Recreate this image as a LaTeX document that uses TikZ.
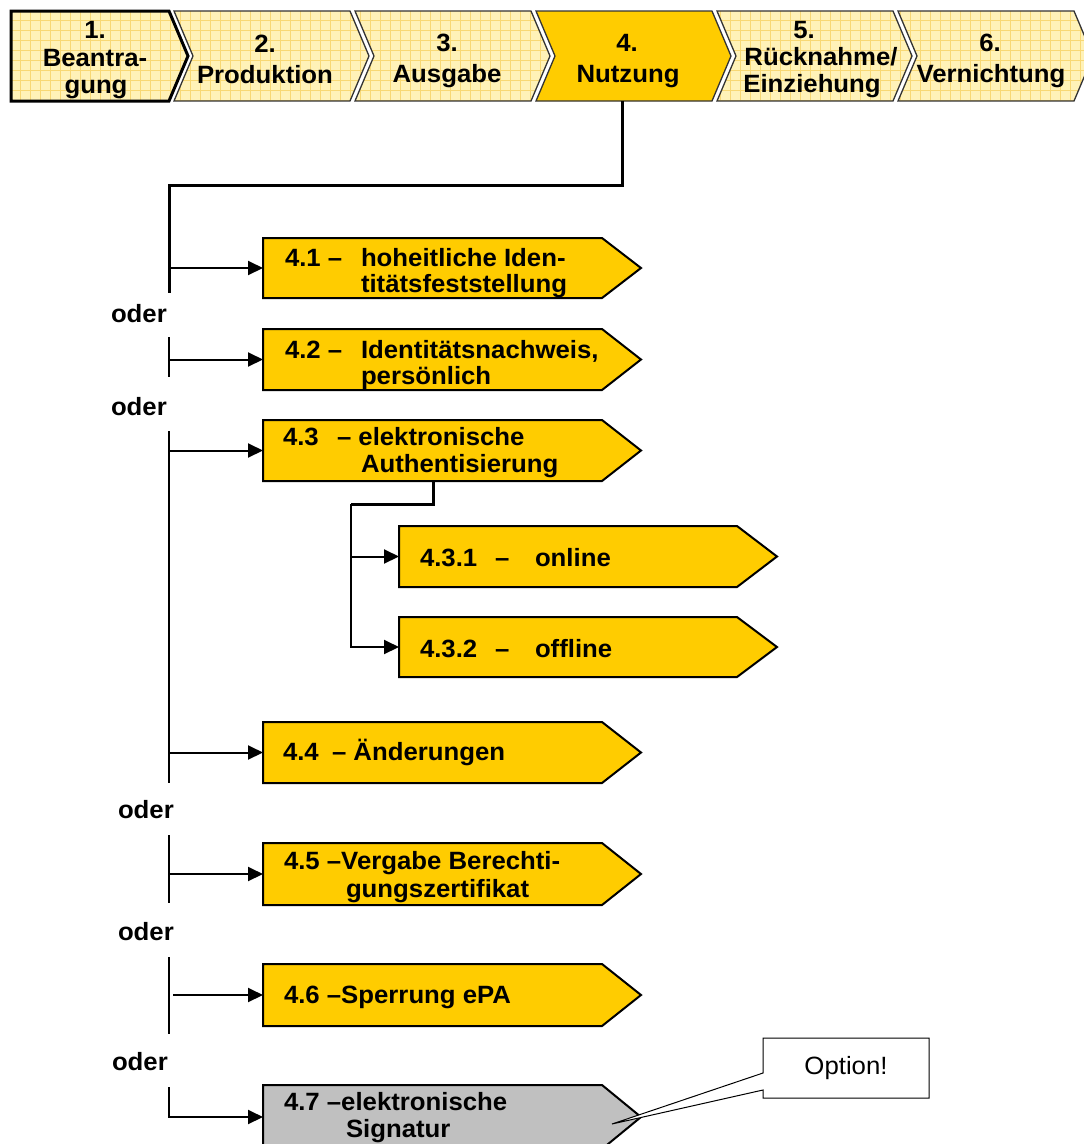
\documentclass[tikz,border=0pt]{standalone}
\usepackage{fontspec}
\setmainfont{Liberation Sans}[FakeStretch=1.03]
\usetikzlibrary{arrows.meta,calc}

\definecolor{gold}{HTML}{FFCC00}
\definecolor{pale}{HTML}{FFF2B8}
\definecolor{gridc}{HTML}{F8D874}
\definecolor{optgray}{HTML}{C0C0C0}
\definecolor{edge}{HTML}{333333}

\tikzset{
  txt/.style={inner sep=0pt, outer sep=0pt, font=\fontsize{25}{29}\selectfont\bfseries},
  plaintxt/.style={inner sep=0pt, outer sep=0pt, font=\fontsize{25}{29}\selectfont},
  chevline/.style={draw=edge, line width=1.3pt, line join=miter},
  firstline/.style={draw=black, line width=3pt, line join=miter},
  gridline/.style={draw=gridc, line width=0.6pt, xstep=10pt, ystep=10pt},
  boxline/.style={draw=black, line width=2pt, line join=miter},
  trunk/.style={draw=black, line width=3pt},
  rail/.style={draw=black, line width=2.2pt},
  arr/.style={draw=black, line width=2pt, -{Triangle[length=15pt,width=14pt]}},
  anchorbox/.style={inner sep=0pt, outer sep=0pt, draw=none, anchor=north west},
}

% one phase chevron of the process bar, left edge notched
\newcommand\chevpath[1]{(#1,11) -- ++(176,0) -- ++(19,45) -- ++(-19,45) -- ++(-176,0) -- ++(19,-45) -- cycle}
% pale gridded chevron
\newcommand\gridchev[1]{%
  \begin{scope}
    \clip \chevpath{#1};
    \fill[pale] (#1,11) rectangle ({#1+196},101);
    \draw[gridline] ({#1-4},104) grid ({#1+200},8);
  \end{scope}
  \draw[chevline] \chevpath{#1};
}
% pointed step box: name, left, top, bottom, corner, tip, fill
\newcommand\pbox[7]{%
  \draw[boxline, fill=#7] (#2,#3) -- (#5,#3) -- (#6,{(#3+#4)/2}) -- (#5,#4) -- (#2,#4) -- cycle;
  \node[anchorbox, minimum width={(#5-#2)*1pt}, minimum height={(#4-#3)*1pt}] (#1) at (#2,#3) {};
}

\begin{document}
\begin{tikzpicture}[x=1pt, y=-1pt]
\useasboundingbox (0,0) rectangle (1084,1144);
\fill[white] (0,0) rectangle (1084,1144);

% ---------- process bar ----------
\begin{scope}
  \clip (11,11) -- (169,11) -- (188,56) -- (169,101) -- (11,101) -- cycle;
  \fill[pale] (11,11) rectangle (190,101);
  \draw[gridline] (8,104) grid (192,8);
\end{scope}
\draw[firstline] (11,11) -- (169,11) -- (188,56) -- (169,101) -- (11,101) -- cycle;
\gridchev{174}
\gridchev{355}
\draw[chevline, fill=gold] \chevpath{536};
\node[anchorbox, minimum width=176pt, minimum height=90pt] (ch4) at (536,11) {};
\gridchev{717}
\gridchev{898}

\node[txt, anchor=base] (p1a) at (95,38) {1.};
\node[txt, anchor=base] (p1b) at (95,66) {Beantra-};
\node[txt, anchor=base] (p1c) at (96,93) {gung};
\node[txt, anchor=base] (p2a) at (265,52) {2.};
\node[txt, anchor=base] (p2b) at (265,83) {Produktion};
\node[txt, anchor=base] (p3a) at (447,51) {3.};
\node[txt, anchor=base] (p3b) at (447,82) {Ausgabe};
\node[txt, anchor=base] (p4a) at (627,51) {4.};
\node[txt, anchor=base] (p4b) at (628,82) {Nutzung};
\node[txt, anchor=base] (p5a) at (804,38) {5.};
\node[txt, anchor=base] (p5b) at (821,65) {Rücknahme/};
\node[txt, anchor=base] (p5c) at (812,92) {Einziehung};
\node[txt, anchor=base] (p6a) at (990,51) {6.};
\node[txt, anchor=base] (p6b) at (991,82) {Vernichtung};

% ---------- sub-steps of phase 4 ----------
\pbox{b41}{263}{238}{298}{602}{641}{gold}
\pbox{b42}{263}{329}{390}{602}{641}{gold}
\pbox{b43}{263}{420}{481}{602}{641}{gold}
\pbox{b431}{399}{526}{587}{737}{777}{gold}
\pbox{b432}{399}{617}{677}{737}{777}{gold}
\pbox{b44}{263}{722}{783}{602}{641}{gold}
\pbox{b45}{263}{843}{905}{602}{641}{gold}
\pbox{b46}{263}{964}{1026}{602}{641}{gold}
\pbox{b47}{263}{1085}{1149}{602}{641}{optgray}

% ---------- connectors ----------
\coordinate (j0) at (169,185);
\coordinate (j1) at (169,293);
\draw[trunk] ($(ch4.south west)+(86,0)$) |- (j0) -- (j1);
\draw[arr] (j1 |- b41.west) -- (b41.west);

\coordinate (s2a) at (169,337);
\coordinate (s2b) at (169,377);
\draw[rail] (s2a) -- (s2b);
\draw[arr] (s2a |- b42.west) -- (b42.west);

\coordinate (s3a) at (169,431);
\coordinate (s3b) at (169,783);
\draw[rail] (s3a) -- (s3b);
\draw[arr] (s3a |- b43.west) -- (b43.west);
\draw[arr] (s3a |- b44.west) -- (b44.west);

\coordinate (k0) at ($(b43.south west)+(170,0)$);
\coordinate (k1) at (351,504);
\draw[trunk] (k0) |- (k1);
\draw[arr] (k1 |- b431.west) -- (b431.west);
\draw[arr] (k1) |- (b432.west);

\coordinate (s4a) at (169,835);
\coordinate (s4b) at (169,903);
\draw[rail] (s4a) -- (s4b);
\draw[arr] (s4a |- b45.west) -- (b45.west);

\coordinate (s5a) at (169,957);
\coordinate (s5b) at (169,1034);
\draw[rail] (s5a) -- (s5b);
\draw[arr] ([xshift=4pt]s5a |- b46.west) -- (b46.west);

\coordinate (s6a) at (169,1087);
\draw[arr] (s6a) |- (b47.west);

% ---------- alternatives ----------
\node[txt, anchor=base west] (or1) at (111,322) {oder};
\node[txt, anchor=base west] (or2) at (111,415) {oder};
\node[txt, anchor=base west] (or3) at (118,818) {oder};
\node[txt, anchor=base west] (or4) at (118,940) {oder};
\node[txt, anchor=base west] (or5) at (112,1070) {oder};

% ---------- box labels ----------
\node[txt, anchor=base west] (l41a) at (285,266) {4.1 –};
\node[txt, anchor=base west] (l41b) at (361,266) {hoheitliche Iden-};
\node[txt, anchor=base west] (l41c) at (361,292) {titätsfeststellung};

\node[txt, anchor=base west] (l42a) at (285,358) {4.2 –};
\node[txt, anchor=base west] (l42b) at (361,358) {Identitätsnachweis,};
\node[txt, anchor=base west] (l42c) at (361,384) {persönlich};

\node[txt, anchor=base west] (l43a) at (283,445) {4.3};
\node[txt, anchor=base west] (l43b) at (337,445) {– elektronische};
\node[txt, anchor=base west] (l43c) at (361,472) {Authentisierung};

\node[txt, anchor=base west] (l431a) at (420,566) {4.3.1};
\node[txt, anchor=base west] (l431b) at (495,566) {–};
\node[txt, anchor=base west] (l431c) at (535,566) {online};

\node[txt, anchor=base west] (l432a) at (420,657) {4.3.2};
\node[txt, anchor=base west] (l432b) at (495,657) {–};
\node[txt, anchor=base west] (l432c) at (535,657) {offline};

\node[txt, anchor=base west] (l44a) at (283,760) {4.4};
\node[txt, anchor=base west] (l44b) at (332,760) {– Änderungen};

\node[txt, anchor=base west] (l45a) at (284,869) {4.5 –Vergabe Berechti-};
\node[txt, anchor=base west] (l45b) at (346,897) {gungszertifikat};

\node[txt, anchor=base west] (l46a) at (284,1003) {4.6 –Sperrung ePA};

\node[txt, anchor=base west] (l47a) at (284,1110) {4.7 –elektronische};
\node[txt, anchor=base west] (l47b) at (346,1137) {Signatur};

% ---------- callout ----------
\coordinate (tipmark) at (612,1124);
\draw[black, line width=1pt, fill=white, line join=miter]
  (763,1038) -- (929,1038) -- (929,1098) -- (763,1098) -- (763,1090) -- (tipmark) -- (763,1073) -- cycle;
\node[plaintxt] (opt) at (846,1068) {Option!};

\end{tikzpicture}
\end{document}
